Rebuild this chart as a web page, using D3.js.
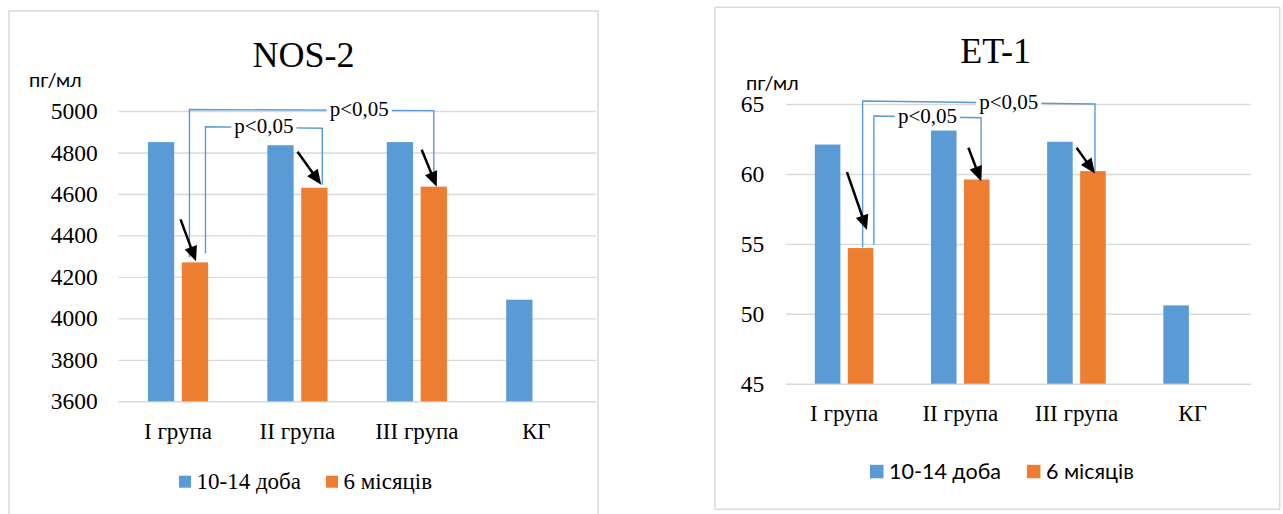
<!DOCTYPE html>
<html>
<head>
<meta charset="utf-8">
<script src="https://cdn.jsdelivr.net/npm/d3@7"></script>
<style>
  html, body { margin: 0; padding: 0; background: #fff; }
  svg { display: block; }
  .serif { font-family: "Liberation Serif", "Times New Roman", serif; }
  .sans { font-family: Lato, "Liberation Sans", Arial, sans-serif; }
</style>
</head>
<body>
<svg id="chart" width="1283" height="514"></svg>
<script>
// ---- data ----
const categories = ["I група", "II група", "III група", "КГ"];
const seriesNames = ["10-14 доба", "6 місяців"];

const nos2Ticks = [3600, 3800, 4000, 4200, 4400, 4600, 4800, 5000];
const nos2Early = [4850, 4835, 4850, 4090];
const nos2Late = [4270, 4630, 4635, null];

const et1Ticks = [45, 50, 55, 60, 65];
const et1Early = [62.1, 63.1, 62.3, 50.6];
const et1Late = [54.7, 59.6, 60.2, null];

const unitLabel = "пг/мл";
const pLabel = "p<0,05";

// ---- style ----
const COLORS = ["#5B9BD5", "#ED7D31"];
const GRID = "#d9d9d9";

// ---- layout of each panel ----
const panels = [
  {
    title: "NOS-2", ticks: nos2Ticks, early: nos2Early, late: nos2Late,
    box: { x: 9, y: 11, w: 589, h: 520 },
    plot: { x0: 118.3, x1: 596, yTop: 111, yBottom: 401.3 },
    titleX: 303.5, titleY: 66.7,
    unitX: 29, unitY: 87,
    tickPad: 20.6, catPad: 21,
    legend: { x: 179, y: 488.7, sq: 12, cls: "serif", size: 23, gap: 25 },
    brackets: [
      { from: 0, to: 2, levelFrom: 5007, levelTo: 5002, fx: 0.29, tx: 0.5, gapFrom: 5.3, gapTo: 5.6, labelAt: 0.695 },
      { from: 0, to: 1, levelFrom: 4924, levelTo: 4917, fx: 0.9, tx: 0.8, gapFrom: 9, gapTo: 3, labelAt: 0.5 }
    ],
    arrows: [
      { bar: 0, tipX: 0.54, tipDy: -1, dx: -15.5, dy: -42 },
      { bar: 1, tipX: 0.76, tipDy: -3, dx: -23.7, dy: -33 },
      { bar: 2, tipX: 0.61, tipDy: 0, dx: -15, dy: -37 }
    ]
  },
  {
    title: "ET-1", ticks: et1Ticks, early: et1Early, late: et1Late,
    box: { x: 715, y: 7.3, w: 564.7, h: 502 },
    plot: { x0: 786, x1: 1250.7, yTop: 104, yBottom: 383.7 },
    titleX: 995.7, titleY: 63.3,
    unitX: 746, unitY: 90,
    tickPad: 21.7, catPad: 21.2,
    legend: { x: 870, y: 479.3, sq: 13.5, cls: "sans", size: 21.5, gap: 26 },
    brackets: [
      { from: 0, to: 2, levelFrom: 65.21, levelTo: 65.0, fx: 0.58, tx: 0.58, gapFrom: 0.5, gapTo: 0, labelAt: 0.629 },
      { from: 0, to: 1, levelFrom: 64.14, levelTo: 64.02, fx: 1.02, tx: 0.67, gapFrom: 3.3, gapTo: 0, labelAt: 0.5 }
    ],
    arrows: [
      { bar: 0, tipX: 0.75, tipDy: -18, dx: -20, dy: -58 },
      { bar: 1, tipX: 0.67, tipDy: 1.7, dx: -12.7, dy: -33.4 },
      { bar: 2, tipX: 0.58, tipDy: 2.3, dx: -18.4, dy: -25.7 }
    ]
  }
];

const svg = d3.select("#chart");

function drawPanel(cfg) {
  const g = svg.append("g");

  // chart frame
  g.append("rect")
    .attr("x", cfg.box.x).attr("y", cfg.box.y)
    .attr("width", cfg.box.w).attr("height", cfg.box.h)
    .attr("fill", "#fff").attr("stroke", GRID).attr("stroke-width", 1.5);

  // scales: outer bands per group, inner bands per series
  const x0 = d3.scaleBand().domain(categories).range([cfg.plot.x0, cfg.plot.x1]);
  const bw = x0.bandwidth();
  const barW = bw * 0.22, gap = bw * 0.064, groupW = 2 * barW + gap;
  const x1 = d3.scaleBand().domain(seriesNames).range([0, groupW])
    .paddingInner(gap / (barW + gap)).paddingOuter(0);
  const y = d3.scaleLinear().domain(d3.extent(cfg.ticks))
    .range([cfg.plot.yBottom, cfg.plot.yTop]);

  const barLeft = (i, s) => x0(categories[i]) + (bw - groupW) / 2 + x1(seriesNames[s]);

  // value axis with horizontal gridlines
  g.append("g")
    .attr("transform", `translate(${cfg.plot.x0},0)`)
    .call(d3.axisLeft(y).tickValues(cfg.ticks)
      .tickSize(-(cfg.plot.x1 - cfg.plot.x0)).tickPadding(cfg.tickPad)
      .tickFormat(d3.format("d")))
    .call(a => {
      a.attr("font-family", null).attr("font-size", null);
      a.select(".domain").remove();
      a.selectAll(".tick line").attr("stroke", GRID).attr("stroke-width", 1.4);
      a.selectAll(".tick text").attr("class", "serif").style("font-size", "23.5px")
        .attr("fill", "#000");
    });

  // category axis (labels only)
  g.append("g")
    .attr("transform", `translate(0,${cfg.plot.yBottom})`)
    .call(d3.axisBottom(x0).tickSize(0).tickPadding(cfg.catPad))
    .call(a => {
      a.attr("font-family", null).attr("font-size", null);
      a.select(".domain").remove();
      a.selectAll(".tick text").attr("class", "serif").style("font-size", "23px")
        .attr("fill", "#000");
    });

  // bars
  const barData = [];
  categories.forEach((c, i) => [cfg.early[i], cfg.late[i]].forEach((v, s) => {
    if (v != null) barData.push({ i, s, v });
  }));
  g.append("g").selectAll("rect").data(barData).join("rect")
    .attr("x", d => barLeft(d.i, d.s))
    .attr("width", x1.bandwidth())
    .attr("y", d => y(d.v))
    .attr("height", d => y(y.domain()[0]) - y(d.v))
    .attr("fill", d => COLORS[d.s]);

  // title and unit label
  g.append("text").text(cfg.title)
    .attr("x", cfg.titleX).attr("y", cfg.titleY)
    .attr("text-anchor", "middle").attr("class", "serif")
    .style("font-size", "36px").attr("fill", "#000");
  g.append("text").text(unitLabel)
    .attr("x", cfg.unitX).attr("y", cfg.unitY).attr("class", "sans")
    .style("font-size", "20px").attr("fill", "#000");

  // significance brackets between the 6-month bars
  const lateTop = i => y(cfg.late[i]);
  cfg.brackets.forEach(b => {
    const xa = barLeft(b.from, 1) + b.fx * x1.bandwidth();
    const xb = barLeft(b.to, 1) + b.tx * x1.bandwidth();
    const ya = y(b.levelFrom), yb = y(b.levelTo);
    const pts = [[xa, lateTop(b.from) - b.gapFrom], [xa, ya], [xb, yb], [xb, lateTop(b.to) - b.gapTo]];
    g.append("path")
      .attr("d", d3.line()(pts))
      .attr("fill", "none").attr("stroke", COLORS[0]).attr("stroke-width", 1.4);
    const lx = xa + (xb - xa) * b.labelAt;
    const ly = ya + (yb - ya) * b.labelAt;
    const bg = g.append("rect").attr("fill", "#fff");
    const t = g.append("text").text(pLabel)
      .attr("x", lx).attr("y", ly + 6)
      .attr("text-anchor", "middle").attr("class", "serif")
      .style("font-size", "21px").attr("fill", "#000");
    const bb = t.node().getBBox();
    bg.attr("x", bb.x - 3).attr("y", ly - 3).attr("width", bb.width + 6).attr("height", 6);
  });

  // arrows pointing at the 6-month bars
  cfg.arrows.forEach(a => {
    const tx = barLeft(a.bar, 1) + a.tipX * x1.bandwidth();
    const ty = lateTop(a.bar) + a.tipDy;
    const sx = tx + a.dx, sy = ty + a.dy;
    const len = Math.hypot(tx - sx, ty - sy);
    const ux = (tx - sx) / len, uy = (ty - sy) / len;
    const headL = 15, headW = 6.5;
    const bx = tx - ux * headL, by = ty - uy * headL;
    g.append("line")
      .attr("x1", sx).attr("y1", sy).attr("x2", bx + ux * 2).attr("y2", by + uy * 2)
      .attr("stroke", "#000").attr("stroke-width", 2.5);
    g.append("path")
      .attr("d", d3.line()([[tx, ty], [bx - uy * headW, by + ux * headW], [bx + uy * headW, by - ux * headW]]) + "Z")
      .attr("fill", "#000");
  });

  // legend
  const L = cfg.legend;
  let lx = L.x;
  seriesNames.forEach((name, s) => {
    g.append("rect")
      .attr("x", lx).attr("y", L.y - 1 - L.sq)
      .attr("width", L.sq).attr("height", L.sq)
      .attr("fill", COLORS[s]);
    const t = g.append("text").text(name)
      .attr("x", lx + L.sq + 5.5).attr("y", L.y).attr("class", L.cls)
      .style("font-size", L.size + "px").attr("fill", "#000");
    lx = lx + L.sq + 5.5 + t.node().getComputedTextLength() + L.gap;
  });
}

panels.forEach(drawPanel);
</script>
</body>
</html>
